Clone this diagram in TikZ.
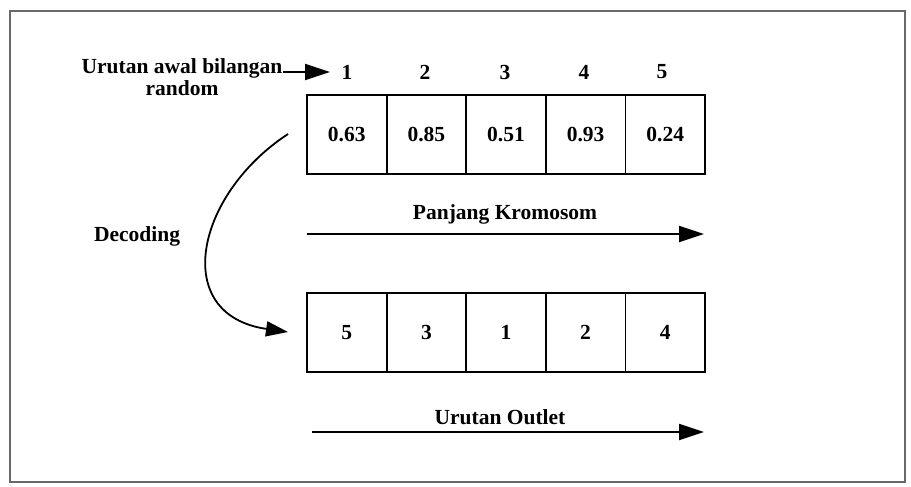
\documentclass[tikz,border=0pt]{standalone}
\usepackage{fontspec}
\setmainfont{Liberation Serif}
\usetikzlibrary{arrows.meta}
\begin{document}
\begin{tikzpicture}[x=1pt,y=-1pt,
  cell/.style={draw, line width=1.8pt, minimum width=79.6pt, minimum height=79pt, inner sep=0pt, font=\bfseries\fontsize{21.5}{24}\selectfont},
  txt/.style={font=\bfseries\fontsize{21.5}{22}\selectfont, inner sep=0pt, align=center},
  arr/.style={line width=1.8pt, -{Triangle[length=25pt, width=16pt]}}]
\useasboundingbox (0,0) rectangle (911,487);
\draw[line width=1.6pt, draw={rgb,255:red,105;green,105;blue,105}] (10,11) rectangle (905,482);
% index labels
\foreach \i/\x in {1/347,2/425,3/505,4/584,5/662}{
  \node[txt] (n\i) at (\x,72) {\i};
}
% top row
\foreach \i/\v in {1/0.63,2/0.85,3/0.51,4/0.93,5/0.24}{
  \node[cell] (c\i) at ({307+39.8+(\i-1)*79.6},134.5) {\v};
}
% bottom row
\foreach \i/\v in {1/5,2/3,3/1,4/2,5/4}{
  \node[cell] (d\i) at ({307+39.8+(\i-1)*79.6},332.5) {\v};
}
% labels
\node[txt] (lbl) at (182,77.5) {Urutan awal bilangan\\random};
\node[txt] (dec) at (137,236) {Decoding};
\node[txt] (pk) at (505,214) {Panjang Kromosom};
\node[txt] (uo) at (500,417) {Urutan Outlet};
% arrows
\coordinate (a1s) at (283,72);
\coordinate (a1e) at (330,72);
\draw[arr] (a1s) -- (a1e);
\coordinate (pks) at (307,234);
\coordinate (pke) at (704,234);
\draw[arr] (pks) -- (pke);
\coordinate (uos) at (312,432);
\coordinate (uoe) at (704,432);
\draw[arr] (uos) -- (uoe);
\coordinate (cvs) at (288,134);
\coordinate (cve) at (288,332);
\draw[line width=1.8pt, -{Triangle[length=22pt, width=15pt]}] (cvs) .. controls (195,195) and (170,315) .. (cve);
\end{tikzpicture}
\end{document}
